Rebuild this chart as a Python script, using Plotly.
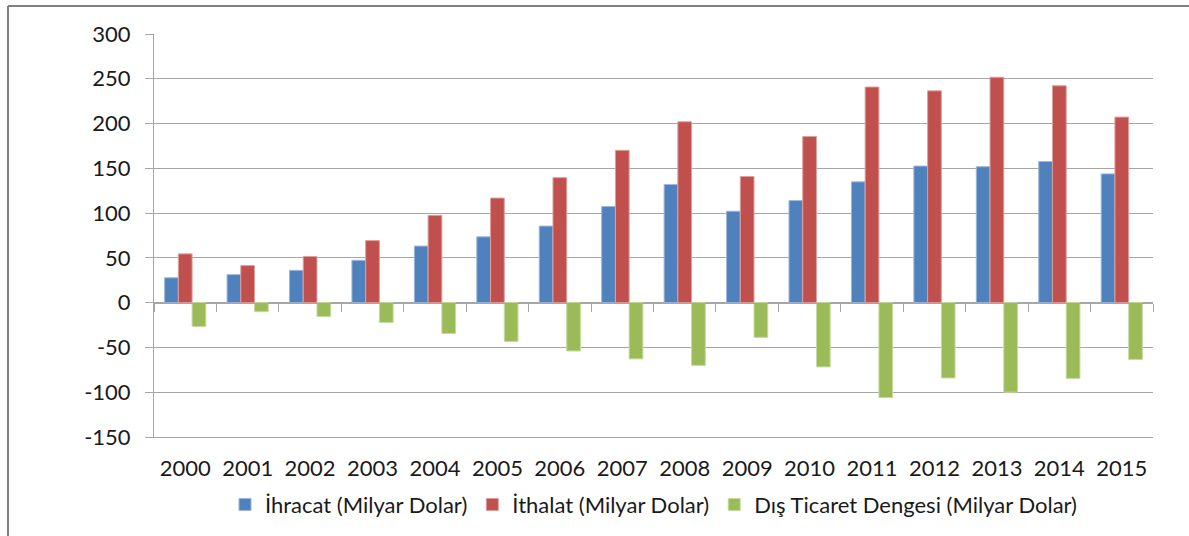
import plotly.graph_objects as go

years = ["2000", "2001", "2002", "2003", "2004", "2005", "2006", "2007",
         "2008", "2009", "2010", "2011", "2012", "2013", "2014", "2015"]
ihracat = [27.8, 31.3, 36.1, 47.3, 63.2, 73.5, 85.5, 107.3,
           132.0, 102.1, 114.0, 134.9, 152.5, 151.8, 157.6, 143.8]
ithalat = [54.5, 41.4, 51.6, 69.3, 97.5, 116.8, 139.6, 170.1,
           202.0, 140.9, 185.5, 240.8, 236.5, 251.7, 242.2, 207.2]
denge = [-26.7, -10.1, -15.5, -22.1, -34.4, -43.3, -54.0, -62.8,
         -70.0, -38.8, -71.7, -105.9, -84.1, -99.9, -84.6, -63.4]

series_names = ["İhracat (Milyar Dolar)", "İthalat (Milyar Dolar)",
                "Dış Ticaret Dengesi (Milyar Dolar)"]
fill_colors = ["#4F81BD", "#C0504D", "#9BBB59"]
edge_colors = ["#9DB7DA", "#DE9E9C", "#C6DBA0"]
y_ticks = [-150, -100, -50, 0, 50, 100, 150, 200, 250, 300]
y_tick_text = [str(v) for v in y_ticks]

W, H = 1189, 536
ML, MR, MT, MB = 154, 36, 34, 98
FONT = "Lato, 'Open Sans', sans-serif"
GRID = "#A6A6A6"

fig = go.Figure()
for name, vals, fc, ec in zip(series_names, [ihracat, ithalat, denge],
                              fill_colors, edge_colors):
    fig.add_trace(go.Bar(
        x=years, y=vals, name=name,
        marker=dict(color=fc, line=dict(color=ec, width=1)),
    ))

# empty helper trace so the zero-line category axis is rendered
fig.add_trace(go.Scatter(x=[], y=[], xaxis="x2", yaxis="y",
                         showlegend=False, hoverinfo="skip"))

y_min, y_max = y_ticks[0], y_ticks[-1]
n = len(years)

fig.update_layout(
    width=W, height=H,
    margin=dict(l=ML, r=MR, t=MT, b=MB),
    paper_bgcolor="white", plot_bgcolor="white",
    barmode="group", bargap=0.34, bargroupgap=0,
    font=dict(family=FONT, color="#1a1a1a"),
    showlegend=True,
    legend=dict(orientation="h", x=0.5, xanchor="center",
                y=-0.165, yanchor="middle",
                font=dict(size=22, family=FONT, color="#1a1a1a"),
                itemwidth=30, traceorder="normal"),
    xaxis=dict(type="category", range=[-0.5, n - 0.5],
               showgrid=False, zeroline=False,
               showline=True, linecolor=GRID, linewidth=1,
               ticks="", tickfont=dict(size=22, family=FONT, color="#1a1a1a"),
               ticklabelstandoff=12),
    xaxis2=dict(overlaying="x", anchor="free",
                position=(0 - y_min) / (y_max - y_min),
                type="linear", range=[-0.5, n - 0.5],
                tickmode="array", tickvals=[i - 0.5 for i in range(n + 1)],
                ticks="outside", ticklen=8, tickcolor=GRID, tickwidth=1,
                showticklabels=False, showgrid=False, zeroline=False,
                showline=True, linecolor=GRID, linewidth=1),
    yaxis=dict(range=[y_min, y_max], tickmode="array", tickvals=y_ticks,
               ticktext=y_tick_text,
               showgrid=True, gridcolor=GRID, gridwidth=1,
               zeroline=False,
               showline=True, linecolor=GRID, linewidth=1,
               ticks="outside", ticklen=8, tickcolor=GRID,
               tickfont=dict(size=22, family=FONT, color="#1a1a1a"),
               ticklabelstandoff=10),
)

# outer frame (top and left edges of the chart area)
pw, ph = W - ML - MR, H - MT - MB
fx0 = (8 - ML) / pw
fy_top = 1 + (MT - 6) / ph
fy_bot = -(MB + 10) / ph
fx_right = 1 + (MR + 10) / pw
frame = dict(color="#808080", width=2)
fig.add_shape(type="line", xref="paper", yref="paper",
              x0=fx0, x1=fx_right, y0=fy_top, y1=fy_top, line=frame)
fig.add_shape(type="line", xref="paper", yref="paper",
              x0=fx0, x1=fx0, y0=fy_bot, y1=fy_top, line=frame)

fig.write_html("out.html")
